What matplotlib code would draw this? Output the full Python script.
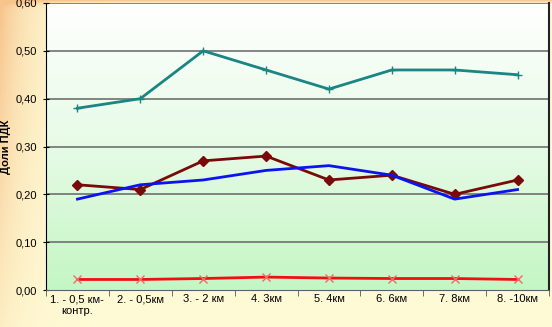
import numpy as np
import matplotlib
matplotlib.use("Agg")
import matplotlib.pyplot as plt
from matplotlib.colors import LinearSegmentedColormap

plt.rcParams['font.family'] = ['Liberation Sans', 'DejaVu Sans']

categories = ["1. - 0,5 км-\nконтр.", "2. - 0,5км", "3. - 2 км", "4. 3км",
              "5. 4км", "6. 6км", "7. 8км", "8. -10км"]
teal_vals = [0.38, 0.40, 0.50, 0.46, 0.42, 0.46, 0.46, 0.45]
darkred_vals = [0.22, 0.21, 0.27, 0.28, 0.23, 0.24, 0.20, 0.23]
blue_vals = [0.19, 0.22, 0.23, 0.25, 0.26, 0.24, 0.19, 0.21]
red_vals = [0.022, 0.022, 0.024, 0.027, 0.025, 0.024, 0.024, 0.022]
yticks = [0.0, 0.1, 0.2, 0.3, 0.4, 0.5, 0.6]
ylabel = "Доли ПДК"

W, H = 552, 327
fig = plt.figure(figsize=(W / 100, H / 100), dpi=100)

# figure background gradient (orange at top-left -> light yellow)
bg = fig.add_axes([0, 0, 1, 1], zorder=-10)
xx, yy = np.meshgrid(np.arange(W), np.arange(H))
w = np.clip(np.exp(-xx / 30.0) * (1 - 0.75 * yy / H) + np.exp(-yy / 2.5) * 0.9, 0, 1)
c_or = np.array([247, 196, 140]) / 255.0
c_ye = np.array([255, 251, 214]) / 255.0
img = c_ye[None, None, :] * (1 - w[..., None]) + c_or[None, None, :] * w[..., None]
bg.imshow(img, aspect='auto', extent=[0, 1, 0, 1])
bg.axis('off')

ax = fig.add_axes([46 / W, 1 - 290 / H, (549 - 46) / W, (290 - 3) / H])
x = np.arange(len(categories))
ax.set_xlim(-0.5, len(categories) - 0.5)
ax.set_ylim(0, 0.6)

# axes background gradient white (top) -> light green (bottom)
cmap = LinearSegmentedColormap.from_list('g', ['#c4f6c4', '#e6fbe6', '#ffffff'])
grad = np.linspace(0, 1, 256)[:, None]
ax.imshow(grad, cmap=cmap, aspect='auto', origin='lower',
          extent=[-0.5, len(categories) - 0.5, 0, 0.6], zorder=0)

for yv in yticks[1:]:
    ax.axhline(yv, color='#707070', lw=1.2, zorder=1)

ax.plot(x, teal_vals, color='#1a8582', lw=2, marker='+', ms=6, mew=1, zorder=3)
ax.plot(x, darkred_vals, color='#7a0a0a', lw=2, marker='D', ms=5, zorder=3)
ax.plot(x, blue_vals, color='#0a14f0', lw=2, zorder=3)
ax.plot(x, red_vals, color='#f01010', lw=2, marker='x', ms=6, mew=1,
        markeredgecolor='#f06a6a', zorder=3)

ax.set_yticks(yticks)
ax.set_yticklabels([f"{v:.2f}".replace('.', ',') for v in yticks], fontsize=8)
ax.set_xticks(x)
ax.set_xticklabels(categories, fontsize=8, multialignment='center')
ax.set_xticks(np.arange(-0.5, len(categories), 1.0), minor=True)
ax.tick_params(axis='x', which='major', length=0, pad=3)
ax.tick_params(axis='x', which='minor', length=4, direction='out', color='#555555')
ax.tick_params(axis='y', length=5, direction='inout', pad=4)
ax.set_ylabel(ylabel, fontsize=8, fontweight='bold', labelpad=3)

ax.spines['top'].set_visible(False)
ax.spines['left'].set_color('black')
ax.spines['bottom'].set_color('#606060')
ax.spines['right'].set_color('#222222')
ax.spines['right'].set_linewidth(1.5)

fig.savefig('out.png', dpi=100)
